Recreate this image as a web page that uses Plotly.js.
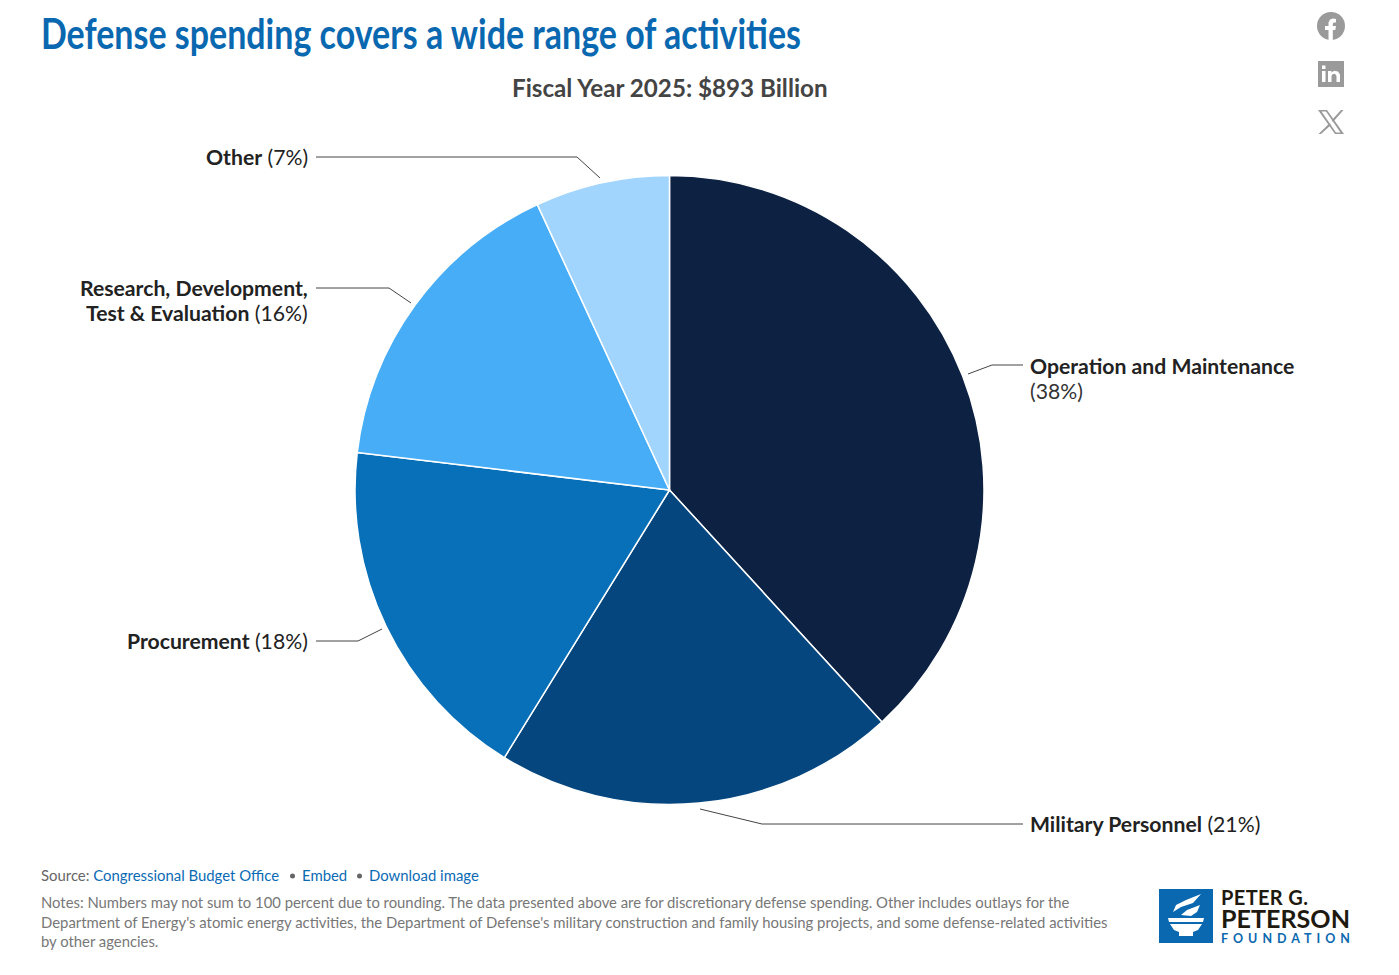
<!DOCTYPE html>
<html><head><meta charset="utf-8">
<script src="https://cdn.plot.ly/plotly-3.0.1.min.js"></script>
<style>html,body{margin:0;padding:0;background:#fff}#c{width:1399px;height:975px}</style>
</head><body><div id="c"></div>
<script>
const categories=["Operation and Maintenance","Military Personnel","Procurement","Research, Development, Test & Evaluation","Other"];
const shares=[38.2,20.6,18.1,16.2,6.9];
const colors=["#0d2143","#05467e","#0870b8","#47adf7","#a1d5fe"];
const F="Lato, 'Open Sans', sans-serif";
const W=1399,H=975;
const px=x=>x/W, py=y=>1-y/H;
function lab(x,y,t,anchor,size,color,fam){return {xref:'paper',yref:'paper',x:px(x),y:py(y),text:t,showarrow:false,borderpad:0,borderwidth:0,xanchor:anchor,yanchor:'middle',align:anchor,font:{family:fam||F,size:size,color:color}};}
function line(pts){return {type:'path',xref:'paper',yref:'paper',path:pts.map((p,i)=>(i?'L':'M')+px(p[0])+','+py(p[1])).join(' '),line:{color:'#444',width:1}};}
function poly(pts,fill){return {type:'path',xref:'paper',yref:'paper',path:pts.map((p,i)=>(i?'L':'M')+px(p[0])+','+py(p[1])).join(' ')+' Z',fillcolor:fill,line:{width:0}};}
const link='#0a6ab4';
const titleText='Defense spending covers a wide range of activities';
const annotations=[
 lab(41,33,'<b>'+titleText+'</b>','left',42,'#0a68b0'),
 lab(669.5,87.5,'<b>Fiscal Year 2025: $893 Billion</b>','center',24.2,'#444'),
 lab(1030,366,'<b>Operation and Maintenance</b>','left',21.2,'#222'),
 lab(1030,391,'(38%)','left',21.2,'#333'),
 lab(1030,823.5,'<b>Military Personnel</b> (21%)','left',21.2,'#222'),
 lab(308,640.5,'<b>Procurement</b> (18%)','right',21.2,'#222'),
 lab(308,288,'<b>Research, Development,</b>','right',21.2,'#222'),
 lab(308,313,'<b>Test &amp; Evaluation</b> (16%)','right',21.2,'#222'),
 lab(308,157.5,'<b>Other</b> (7%)','right',21.2,'#222'),
 lab(41,875,'Source: <span style="color:'+link+'">Congressional Budget Office</span>','left',14.9,'#666'),
 lab(302,875,'Embed','left',14.9,link),
 lab(369,875,'Download image','left',14.9,link),
 lab(41,902,"Notes: Numbers may not sum to 100 percent due to rounding. The data presented above are for discretionary defense spending. Other includes outlays for the",'left',14.83,'#777'),
 lab(41,921.5,"Department of Energy's atomic energy activities, the Department of Defense's military construction and family housing projects, and some defense-related activities",'left',14.89,'#777'),
 lab(41,941,"by other agencies.",'left',14.85,'#777'),
 lab(1221,896.5,'<b>PETER G.</b>','left',20,'#1f1a10'),
 lab(1221,918,'<b>PETERSON</b>','left',25.5,'#1f1a10'),
 lab(1221,938,'<b>FOUNDATION</b>','left',12.5,'#0a68b0')
];
const fitWidths={[titleText]:['spacingAndGlyphs',760],'PETER G.':['spacing',87],'PETERSON':['spacingAndGlyphs',129],'FOUNDATION':['spacing',129]};
const G='#9a9a9a';
const dot=(cx,cy,r,c)=>({type:'circle',xref:'paper',yref:'paper',x0:px(cx-r),x1:px(cx+r),y0:py(cy-r),y1:py(cy+r),fillcolor:c,line:{width:0}});
const shapes=[
 line([[968,374],[992,365],[1023,365]]),
 line([[700,809],[762,824],[1023,824]]),
 line([[382,629],[358,641],[316,641]]),
 line([[411,303],[389,288],[316,288]]),
 line([[600,178],[577,157],[316,157]]),
 dot(292.5,876,2.5,'#666'),
 dot(359.5,876,2.5,'#666'),
 {type:'rect',xref:'paper',yref:'paper',x0:px(1159),x1:px(1213),y0:py(889),y1:py(943),fillcolor:'#0a68b0',line:{width:0}},
 poly([[1168,918],[1204,918],[1203,922],[1169,922]],'#fff'),
 poly([[1170,924],[1202,924],[1198,930],[1193,932],[1193,936],[1179,936],[1179,932],[1174,930]],'#fff'),
 poly([[1173,912],[1176,905],[1186,900],[1201,894],[1193,903],[1181,907]],'#fff'),
 poly([[1181,915],[1187,910],[1200,905],[1197,912],[1191,916]],'#fff'),
 dot(1331,26,14,G),
 poly([[1328.5,40],[1328.5,30],[1325,30],[1325,26],[1328.5,26],[1328.5,22.5],[1330,19.5],[1333,18.5],[1336,19],[1336,22.5],[1334,22.5],[1332.8,23.5],[1332.8,26],[1336,26],[1335.3,30],[1332.8,30],[1332.8,40]],'#fff'),
 {type:'rect',xref:'paper',yref:'paper',x0:px(1318),x1:px(1344),y0:py(61),y1:py(87),fillcolor:G,line:{width:0}},
 poly([[1322,71],[1325.5,71],[1325.5,82],[1322,82]],'#fff'),
 poly([[1322,65.5],[1325.5,65.5],[1325.5,69],[1322,69]],'#fff'),
 poly([[1328,71],[1331.5,71],[1331.5,72.5],[1334,70.8],[1338,71.5],[1340,74.5],[1340,82],[1336.5,82],[1336.5,76],[1335,73.8],[1332.5,74.2],[1331.5,76],[1331.5,82],[1328,82]],'#fff'),
 poly([[1318,110],[1327,110],[1344,134],[1335,134]],G),
 poly([[1321.5,111.5],[1326,111.5],[1340.5,132.5],[1336,132.5]],'#fff'),
 poly([[1341,110],[1343.5,110],[1333,122],[1331.7,120.2]],G),
 poly([[1329.5,123.2],[1331,125],[1321,134],[1318.5,134]],G)
];
Plotly.newPlot('c',[{type:'pie',labels:categories,values:shares,sort:false,direction:'clockwise',rotation:0,
 marker:{colors:colors,line:{color:'#fff',width:1.5}},textinfo:'none',hoverinfo:'label+percent',
 domain:{x:[355/W,984/W],y:[1-805/H,1-175/H]}}],
 {width:W,height:H,margin:{l:0,r:0,t:0,b:0},showlegend:false,paper_bgcolor:'#fff',annotations,shapes},
 {displayModeBar:false}).then(gd=>{
  gd.querySelectorAll('.annotation-text').forEach(t=>{
    const f=fitWidths[t.textContent.trim()];
    if(f){t.setAttribute('lengthAdjust',f[0]);t.setAttribute('textLength',f[1]);}
  });
 });
</script></body></html>
